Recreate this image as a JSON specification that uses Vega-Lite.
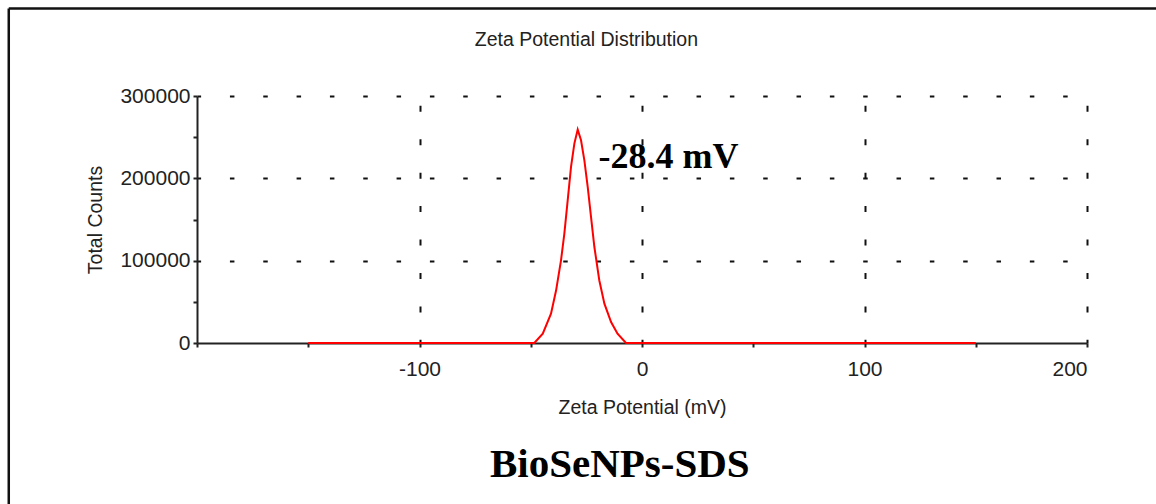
{
  "$schema": "https://vega.github.io/schema/vega-lite/v6.json",
  "width": 890,
  "height": 247,
  "autosize": {"type": "none"},
  "padding": {"left": 197, "top": 96, "right": 69, "bottom": 161},
  "background": "white",
  "config": {
    "view": {"stroke": null},
    "font": "Liberation Sans"
  },
  "datasets": {
    "curve": [
      {"zeta": -150, "counts": 0},
      {"zeta": -48.4, "counts": 0},
      {"zeta": -44.6, "counts": 11400},
      {"zeta": -40.9, "counts": 35700},
      {"zeta": -38.6, "counts": 64000},
      {"zeta": -36.4, "counts": 100400},
      {"zeta": -34.9, "counts": 132900},
      {"zeta": -33.4, "counts": 173300},
      {"zeta": -31.9, "counts": 213800},
      {"zeta": -30.4, "counts": 242200},
      {"zeta": -28.9, "counts": 259200},
      {"zeta": -27.4, "counts": 246200},
      {"zeta": -25.9, "counts": 221900},
      {"zeta": -24.4, "counts": 189500},
      {"zeta": -22.9, "counts": 153000},
      {"zeta": -21.4, "counts": 116600},
      {"zeta": -19.2, "counts": 76200},
      {"zeta": -16.9, "counts": 47800},
      {"zeta": -13.9, "counts": 25500},
      {"zeta": -11.0, "counts": 11400},
      {"zeta": -7.2, "counts": 0},
      {"zeta": 150, "counts": 0}
    ],
    "labels": [
      {"zeta": -19.5, "counts": 225900, "text": "-28.4 mV", "kind": "peak"},
      {"zeta": -10, "counts": -148200, "text": "BioSeNPs-SDS", "kind": "sample"},
      {"zeta": -25, "counts": 368000, "text": "Zeta Potential Distribution", "kind": "title"}
    ],
    "frame": [
      {"x": -284.6, "x2": -284.6, "y": 406300, "y2": -250000},
      {"x": -284.6, "x2": 260, "y": 406300, "y2": 406300}
    ]
  },
  "layer": [
    {
      "data": {"name": "curve"},
      "mark": {"type": "line", "color": "#ff0000", "strokeWidth": 2, "clip": false},
      "encoding": {
        "x": {
          "field": "zeta",
          "type": "quantitative",
          "scale": {"domain": [-200, 200], "nice": false, "zero": false},
          "axis": {
            "title": "Zeta Potential (mV)",
            "values": [-200, -150, -100, -50, 0, 50, 100, 150, 200],
            "labelExpr": "(datum.value % 100 == 0 && datum.value != -200) ? ('' + datum.value) : ''",
            "domainColor": "#222222",
            "domainWidth": 2,
            "tickColor": "#222222",
            "tickWidth": 2,
            "tickSize": 4,
            "labelFont": "Liberation Sans",
            "labelFontSize": 21,
            "labelColor": "#222222",
            "labelPadding": 11,
            "titleFont": "Liberation Sans",
            "titleFontSize": 19.5,
            "titleFontWeight": "normal",
            "titleColor": "#222222",
            "titlePadding": 19,
            "grid": true,
            "gridColor": "#111111",
            "gridWidth": 2,
            "gridDash": [6, 27.43],
            "gridDashOffset": 24.1,
            "gridOpacity": {"condition": {"test": "datum.value % 100 == 0 && datum.value != -200", "value": 1}, "value": 0}
          }
        },
        "y": {
          "field": "counts",
          "type": "quantitative",
          "scale": {"domain": [0, 300000], "nice": false},
          "axis": {
            "title": "Total Counts",
            "values": [0, 50000, 100000, 150000, 200000, 250000, 300000],
            "labelExpr": "(datum.value % 100000 == 0) ? ('' + datum.value) : ''",
            "domainColor": "#222222",
            "domainWidth": 2,
            "tickColor": "#222222",
            "tickWidth": 2,
            "tickSize": 4,
            "labelFont": "Liberation Sans",
            "labelFontSize": 21,
            "labelColor": "#222222",
            "labelPadding": 3,
            "titleFont": "Liberation Sans",
            "titleFontSize": 19.5,
            "titleFontWeight": "normal",
            "titleColor": "#222222",
            "titlePadding": 14,
            "grid": true,
            "gridColor": "#111111",
            "gridWidth": 2,
            "gridDash": [4.5, 28.83],
            "gridDashOffset": 0.9,
            "gridOpacity": {"condition": {"test": "datum.value % 100000 == 0 && datum.value != 0", "value": 1}, "value": 0}
          }
        }
      }
    },
    {
      "data": {"name": "labels"},
      "transform": [{"filter": "datum.kind == 'peak'"}],
      "mark": {"type": "text", "font": "Liberation Serif", "fontWeight": "bold", "fontSize": 36, "align": "left", "baseline": "middle", "color": "#000000", "clip": false},
      "encoding": {
        "x": {"field": "zeta", "type": "quantitative"},
        "y": {"field": "counts", "type": "quantitative"},
        "text": {"field": "text"}
      }
    },
    {
      "data": {"name": "labels"},
      "transform": [{"filter": "datum.kind == 'sample'"}],
      "mark": {"type": "text", "font": "Liberation Serif", "fontWeight": "bold", "fontSize": 41, "align": "center", "baseline": "middle", "color": "#000000", "clip": false},
      "encoding": {
        "x": {"field": "zeta", "type": "quantitative"},
        "y": {"field": "counts", "type": "quantitative"},
        "text": {"field": "text"}
      }
    },
    {
      "data": {"name": "labels"},
      "transform": [{"filter": "datum.kind == 'title'"}],
      "mark": {"type": "text", "font": "Liberation Sans", "fontSize": 19.5, "align": "center", "baseline": "middle", "color": "#222222", "clip": false},
      "encoding": {
        "x": {"field": "zeta", "type": "quantitative"},
        "y": {"field": "counts", "type": "quantitative"},
        "text": {"field": "text"}
      }
    },
    {
      "data": {"name": "frame"},
      "mark": {"type": "rule", "color": "#111111", "strokeWidth": 2.5, "clip": false},
      "encoding": {
        "x": {"field": "x", "type": "quantitative"},
        "x2": {"field": "x2"},
        "y": {"field": "y", "type": "quantitative"},
        "y2": {"field": "y2"}
      }
    }
  ]
}
